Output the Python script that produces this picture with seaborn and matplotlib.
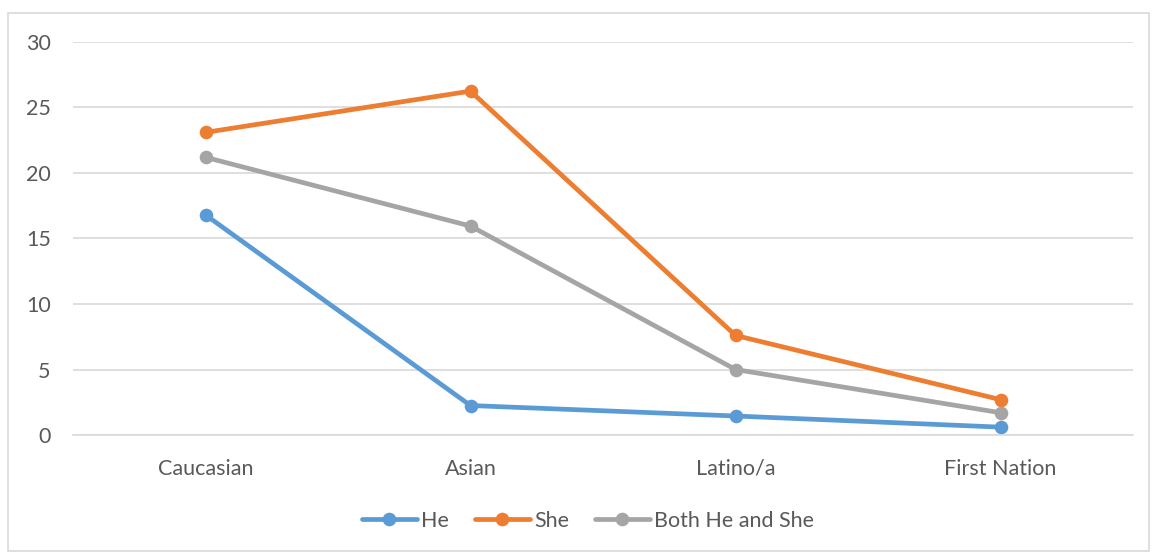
import matplotlib
matplotlib.use("Agg")
import matplotlib.pyplot as plt
import seaborn as sns
import pandas as pd
from matplotlib.patches import Rectangle

categories = ["Caucasian", "Asian", "Latino/a", "First Nation"]
he = [16.8, 2.25, 1.45, 0.6]
she = [23.1, 26.25, 7.6, 2.7]
both = [21.2, 15.95, 5.0, 1.7]
series_names = ["He", "She", "Both He and She"]
colors = ["#5B9BD5", "#ED7D31", "#A5A5A5"]
yticks = [0, 5, 10, 15, 20, 25, 30]

rows = []
for name, vals in zip(series_names, [he, she, both]):
    for i, (c, v) in enumerate(zip(categories, vals)):
        rows.append({"x": i, "cat": c, "value": v, "series": name})
df = pd.DataFrame(rows)

sns.set_theme(style="white")
plt.rcParams["font.family"] = ["Lato", "DejaVu Sans"]
txt = "#595959"
fs = 15.5

fig = plt.figure(figsize=(11.53, 5.52), dpi=100)
ax = fig.add_axes([73/1153, (552-435)/552, (1133-73)/1153, (435-42)/552])

sns.lineplot(data=df, x="x", y="value", hue="series", palette=colors,
             hue_order=series_names, marker="o", markersize=9.8,
             markeredgewidth=0, linewidth=3.4, ax=ax, legend=True)

ax.set_xlim(-0.5, 3.5)
ax.set_ylim(0, 30)
ax.set_yticks(yticks)
ax.set_yticklabels([str(t) for t in yticks])
ax.set_xticks(range(len(categories)))
ax.set_xticklabels(categories)
ax.set_xlabel("")
ax.set_ylabel("")
ax.grid(axis="y", color="#D9D9D9", linewidth=1.2)
ax.set_axisbelow(True)
for s in ["top", "right", "left"]:
    ax.spines[s].set_visible(False)
ax.spines["bottom"].set_color("#D9D9D9")
ax.spines["bottom"].set_linewidth(1.2)
ax.tick_params(axis="both", length=0, labelsize=fs, labelcolor=txt)
ax.tick_params(axis="y", pad=16)
ax.tick_params(axis="x", pad=17)

handles, labels = ax.get_legend_handles_labels()
ax.legend(handles, labels, loc="center", bbox_to_anchor=(588/1153, (552-521)/552),
          bbox_transform=fig.transFigure, ncol=3, frameon=False,
          fontsize=fs, labelcolor=txt, handlelength=2.55, handletextpad=0.2,
          columnspacing=1.2)

fig.patches.append(Rectangle((8/1153, 1/552), 1141/1153, (551-13)/552,
                             transform=fig.transFigure, fill=False,
                             edgecolor="#D9D9D9", linewidth=1.2))

fig.savefig("out.png", dpi=100)
